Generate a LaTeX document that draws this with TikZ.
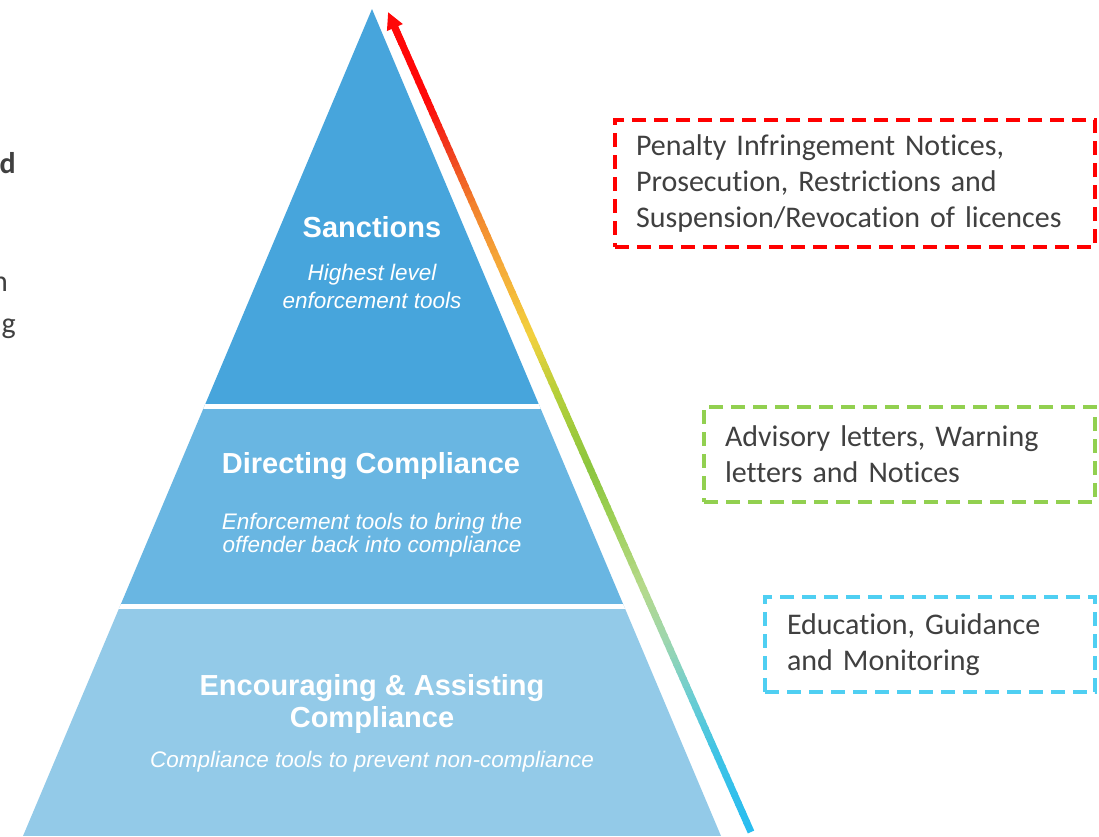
\documentclass[tikz,border=0pt]{standalone}
\usepackage{fontspec}
\setmainfont{Carlito}[Ligatures=NoCommon]
\newfontfamily\pyrfont{Liberation Sans}
\usetikzlibrary{arrows.meta, calc}
\definecolor{SanctBlue}{HTML}{47A5DC}
\definecolor{DirectBlue}{HTML}{69B6E2}
\definecolor{EncourBlue}{HTML}{93CAE8}
\definecolor{NoteText}{HTML}{404040}
\definecolor{NoteRed}{HTML}{FF0000}
\definecolor{NoteGreen}{HTML}{92D050}
\definecolor{NoteCyan}{HTML}{4FCFF2}
% colours along the escalation arrow (bottom to top)
\definecolor{RampA}{HTML}{29BDF0}
\definecolor{RampB}{HTML}{3EC3E5}
\definecolor{RampC}{HTML}{6BCDD2}
\definecolor{RampD}{HTML}{9DD6AE}
\definecolor{RampE}{HTML}{B5D98A}
\definecolor{RampF}{HTML}{9CCF55}
\definecolor{RampG}{HTML}{8CC63F}
\definecolor{RampH}{HTML}{B5CF3A}
\definecolor{RampI}{HTML}{F2D03E}
\definecolor{RampJ}{HTML}{F5A838}
\definecolor{RampK}{HTML}{F2812D}
\definecolor{RampL}{HTML}{F03A1E}
\definecolor{RampM}{HTML}{FF0808}

\tikzset{
    tiertitle/.style={text=white, inner sep=0pt, align=center,
        font=\pyrfont\bfseries\fontsize{29}{32}\selectfont},
    tiersub/.style={text=white, inner sep=0pt, align=center,
        font=\pyrfont\itshape\fontsize{22.5}{28}\selectfont},
    notebox/.style={line width=4pt, dash pattern=on 14pt off 8pt,
        anchor=north west, inner ysep=0pt, align=left, text=NoteText,
        font=\fontsize{30}{36}\selectfont},
    edgeletter/.style={text=NoteText, inner sep=0pt,
        font=\fontsize{30}{36}\selectfont},
    riskline/.style={line width=7pt},
}

\begin{document}
\begin{tikzpicture}[x=1pt, y=-1pt]
    \useasboundingbox[fill=white] (0,0) rectangle (1099,836);

    % Pyramid corners
    \coordinate (apex) at (372,9);
    \coordinate (baseL) at (23,836);
    \coordinate (baseR) at (721,836);

    % Three tiers, cut out of the triangle
    \begin{scope}
        \clip (apex) -- (baseL) -- (baseR) -- cycle;
        \fill[SanctBlue] (0,0) rectangle (1099,406);
        \fill[DirectBlue] (0,406) rectangle (1099,606);
        \fill[EncourBlue] (0,606) rectangle (1099,836);
        % white gaps between tiers
        \draw[white, line width=5pt] (0,406) -- (1099,406);
        \draw[white, line width=5pt] (0,606.5) -- (1099,606.5);
    \end{scope}

    % Tier labels
    \node[tiertitle] (sanct) at (372,227) {Sanctions};
    \node[tiersub] (sanctsub) at (372,286) {Highest level\\enforcement tools};
    \node[tiertitle] (direct) at (371,466) {Directing Compliance};
    \node[tiersub, font=\pyrfont\itshape\fontsize{22.5}{23}\selectfont] (directsub) at (372,535)
        {Enforcement tools to bring the\\offender back into compliance};
    \node[tiertitle] (encour) at (372,704) {Encouraging \& Assisting\\Compliance};
    \node[tiersub] (encoursub) at (372,762) {Compliance tools to prevent non-compliance};

    % Escalation arrow: colour ramp drawn piece by piece
    \coordinate (riskbase) at (751,832);
    \coordinate (risktip) at (388,12);
    \foreach \ta/\tb/\ca/\cb in {0/0.09/RampA/RampB, 0.09/0.16/RampB/RampC,
            0.16/0.23/RampC/RampD, 0.23/0.295/RampD/RampE, 0.295/0.38/RampE/RampF,
            0.38/0.44/RampF/RampG, 0.44/0.53/RampG/RampH, 0.53/0.6/RampH/RampI,
            0.6/0.69/RampI/RampJ, 0.69/0.76/RampJ/RampK, 0.76/0.83/RampK/RampL,
            0.83/0.89/RampL/RampM, 0.89/0.985/RampM/RampM} {
        \foreach \k in {0,...,7} {
            \pgfmathsetmacro\sa{\ta+(\tb-\ta)*\k/8}
            \pgfmathsetmacro\sb{\ta+(\tb-\ta)*(\k+1)/8+0.002}
            \pgfmathsetmacro\mx{100-12.5*\k}
            \colorlet{segcol}{\ca!\mx!\cb}
            \draw[riskline, segcol] ($(riskbase)!\sa!(risktip)$) -- ($(riskbase)!\sb!(risktip)$);
        }
    }
    % arrow head
    \draw[riskline, RampM, -{Triangle[length=17pt, width=16pt]}]
        ($(riskbase)!0.96!(risktip)$) -- (risktip);

    % Tool boxes
    \node[notebox, draw=NoteRed, text width=438pt, inner xsep=21pt, minimum height=127pt]
        (penalty) at (613,118)
        {Penalty Infringement Notices,\\Prosecution, Restrictions and\\Suspension/Revocation of licences};
    \node[notebox, draw=NoteGreen, text width=349pt, inner xsep=21pt, minimum height=95pt]
        (advisory) at (702,405)
        {Advisory letters, Warning\\letters and Notices};
    \node[notebox, draw=NoteCyan, text width=286pt, inner xsep=22pt, minimum height=95pt]
        (education) at (763,595)
        {Education, Guidance\\and Monitoring};

    % Letters cut off at the left edge
    \node[edgeletter, font=\bfseries\fontsize{30}{36}\selectfont, anchor=base east] (cutd) at (16,173) {d};
    \node[edgeletter, anchor=base east] (cutn) at (8,291) {n};
    \node[edgeletter, anchor=base east] (cutg) at (16,333) {g};

\end{tikzpicture}
\end{document}
